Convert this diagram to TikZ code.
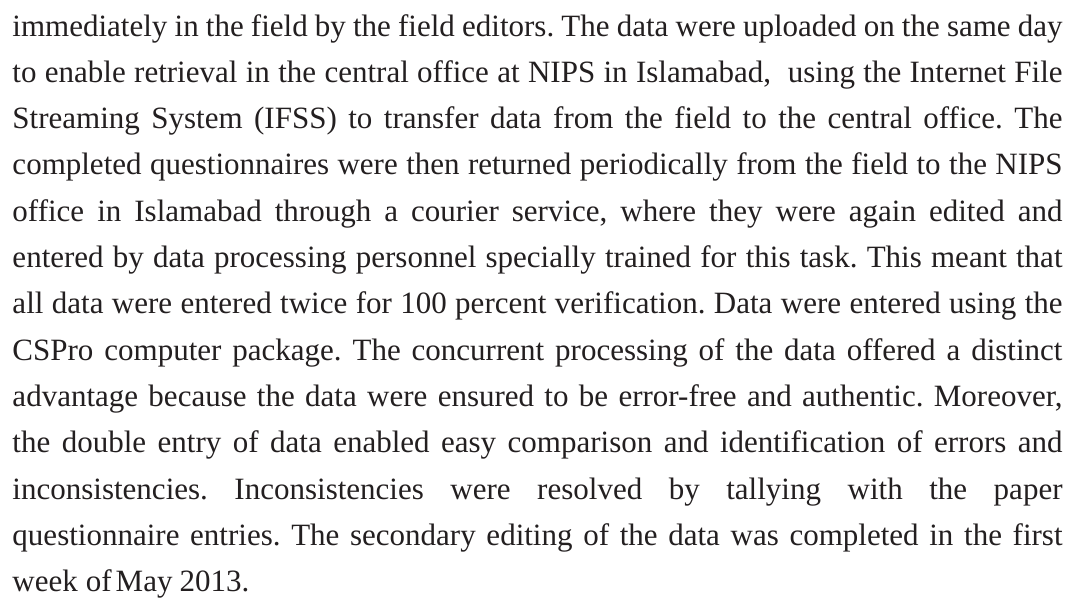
\documentclass[tikz,border=0pt]{standalone}
\usepackage{fontspec}
\setmainfont{Liberation Serif}
\definecolor{ink}{HTML}{231F20}
\tikzset{
  para/.style={anchor=base west, inner sep=0pt, outer sep=0pt, text=ink,
    font=\fontsize{31pt}{40pt}\selectfont\frenchspacing},
}
% one justified line of the paragraph
\newcommand{\jline}[1]{\makebox[1050pt][s]{#1}}
\begin{document}
\begin{tikzpicture}[x=1pt,y=1pt]
\useasboundingbox[fill=white] (0,0) rectangle (1071,-613);
\def\lx{12.5}
\def\ly{-36}
\def\ls{46.3}
\node[para] (l1) at (\lx,\ly) {\jline{immediately in the field by the field editors. The data were uploaded on the same day}};
\node[para] (l2) at (\lx,\ly-\ls) {\jline{to enable retrieval in the central office at NIPS in Islamabad,\ \ using the Internet File}};
\node[para] (l3) at (\lx,\ly-2*\ls) {\jline{Streaming System (IFSS) to transfer data from the field to the central office. The}};
\node[para] (l4) at (\lx,\ly-3*\ls) {\jline{completed questionnaires were then returned periodically from the field to the NIPS}};
\node[para] (l5) at (\lx,\ly-4*\ls) {\jline{office in Islamabad through a courier service, where they were again edited and}};
\node[para] (l6) at (\lx,\ly-5*\ls) {\jline{entered by data processing personnel specially trained for this task. This meant that}};
\node[para] (l7) at (\lx,\ly-6*\ls) {\jline{all data were entered twice for 100 percent verification. Data were entered using the}};
\node[para] (l8) at (\lx,\ly-7*\ls) {\jline{CSPro computer package. The concurrent processing of the data offered a distinct}};
\node[para] (l9) at (\lx,\ly-8*\ls) {\jline{advantage because the data were ensured to be error-free and authentic. Moreover,}};
\node[para] (l10) at (\lx,\ly-9*\ls) {\jline{the double entry of data enabled easy comparison and identification of errors and}};
\node[para] (l11) at (\lx,\ly-10*\ls) {\jline{inconsistencies. Inconsistencies were resolved by tallying with the paper}};
\node[para] (l12) at (\lx,\ly-11*\ls) {\jline{questionnaire entries. The secondary editing of the data was completed in the first}};
\node[para] (l13) at (\lx,\ly-12*\ls) {week\hspace{8pt}of\hspace{4pt}May\hspace{7pt}2013.};
\end{tikzpicture}
\end{document}
